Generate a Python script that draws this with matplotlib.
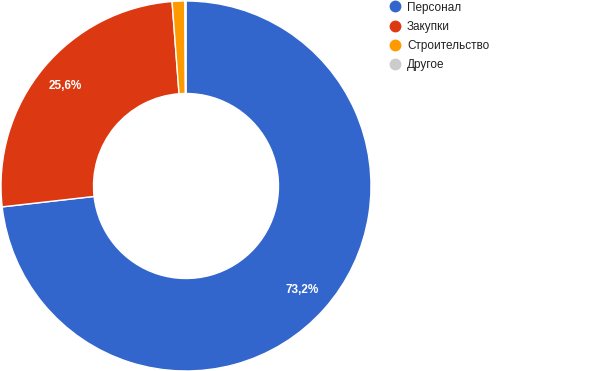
import matplotlib.pyplot as plt
from matplotlib.lines import Line2D

plt.rcParams["font.family"] = ["Liberation Sans", "DejaVu Sans"]

labels = ["Персонал", "Закупки", "Строительство", "Другое"]
values = [73.2, 25.6, 1.1, 0.1]
colors = ["#3366cc", "#dc3912", "#ff9900", "#cccccc"]

fig = plt.figure(figsize=(6, 3.71), dpi=100)
ax = fig.add_axes([1 / 600, 0, 370 / 600, 370 / 371])

wedges, texts, autotexts = ax.pie(
    values,
    colors=colors,
    startangle=90,
    counterclock=False,
    radius=1.0,
    autopct=lambda p: f"{p:.1f}%".replace(".", ",") if p > 5 else "",
    pctdistance=0.845,
    wedgeprops=dict(width=0.5, edgecolor="white", linewidth=1),
    textprops=dict(color="white", fontsize=8.5, fontweight="bold"),
)
ax.set_xlim(-1, 1)
ax.set_ylim(-1, 1)
ax.set_aspect("equal")

handles = [
    Line2D([], [], marker="o", linestyle="none", markersize=7.5,
           markerfacecolor=c, markeredgecolor=c)
    for c in colors
]
fig.legend(
    handles, labels,
    loc="upper left",
    bbox_to_anchor=(377 / 600, 1.0 + 9 / 371),
    frameon=False,
    fontsize=8.5,
    labelcolor="#222222",
    handletextpad=0.45,
    labelspacing=0.6,
    handlelength=1.2,
)

fig.savefig("out.png", dpi=100)
